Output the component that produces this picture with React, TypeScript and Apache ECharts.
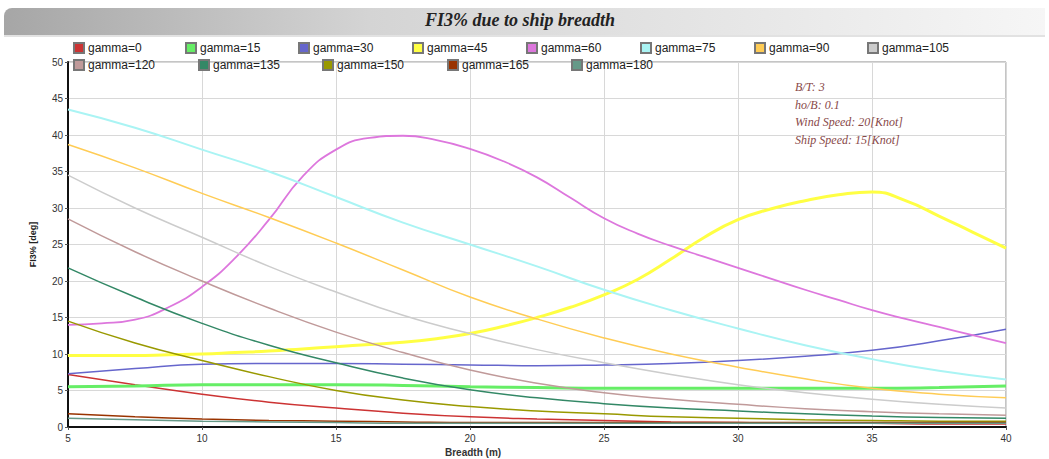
import React, { useEffect, useRef } from "react";
import * as echarts from "echarts";

const breadth = [5, 7.5, 10, 12.5, 15, 17.5, 20, 22.5, 25, 27.5, 30, 32.5, 35, 37.5, 40];
const breadthFine = [
  5, 6.25, 7.5, 8.75, 10, 11.25, 12.5, 13.75, 15, 16.25, 17.5, 18.75, 20, 21.25, 22.5,
  23.75, 25, 26.25, 27.5, 28.75, 30, 31.25, 32.5, 33.75, 35, 36.25, 37.5, 38.75, 40,
];

const g0 = [7.2, 5.8, 4.5, 3.4, 2.6, 1.9, 1.4, 1.1, 0.9, 0.7, 0.6, 0.5, 0.5, 0.4, 0.4];
const g15 = [5.5, 5.6, 5.8, 5.8, 5.8, 5.7, 5.5, 5.4, 5.3, 5.3, 5.3, 5.3, 5.3, 5.4, 5.6];
const g30 = [7.3, 8.0, 8.6, 8.7, 8.7, 8.6, 8.5, 8.4, 8.5, 8.7, 9.1, 9.7, 10.5, 11.8, 13.4];
const g45 = [
  9.8, 9.8, 9.8, 9.9, 10.0, 10.2, 10.4, 10.7, 11.0, 11.3, 11.6, 12.1, 12.8, 13.8, 15.0,
  16.4, 18.1, 20.2, 23.0, 26.0, 28.4, 29.9, 31.0, 31.8, 32.2, 31.0, 28.9, 26.7, 24.5,
];
const g60 = [
  14.0, 14.2, 14.7, 16.4, 19.2, 23.2, 28.4, 34.3, 38.0, 39.6, 39.9, 39.3, 38.1, 36.4, 34.2,
  31.4, 28.6, 26.5, 24.8, 23.3, 21.8, 20.3, 18.8, 17.4, 16.0, 14.8, 13.7, 12.6, 11.5,
];
const g75 = [43.5, 41.0, 38.0, 35.0, 31.5, 28.0, 25.0, 22.0, 18.8, 16.0, 13.5, 11.2, 9.3, 7.7, 6.5];
const g90 = [38.7, 35.5, 32.0, 28.7, 25.2, 21.5, 17.8, 14.8, 12.2, 10.0, 8.2, 6.6, 5.3, 4.5, 4.0];
const g105 = [34.5, 30.0, 26.0, 22.0, 18.5, 15.3, 12.8, 10.6, 8.8, 7.2, 5.8, 4.7, 3.8, 3.1, 2.6];
const g120 = [28.5, 24.0, 20.0, 16.3, 13.0, 10.2, 7.8, 6.0, 4.7, 3.8, 3.1, 2.5, 2.1, 1.8, 1.6];
const g135 = [21.8, 17.8, 14.2, 11.2, 8.8, 6.7, 5.1, 4.0, 3.2, 2.6, 2.2, 1.8, 1.5, 1.3, 1.2];
const g150 = [14.5, 11.5, 9.1, 6.9, 5.0, 3.7, 2.8, 2.2, 1.8, 1.4, 1.2, 1.0, 0.9, 0.8, 0.8];
const g165 = [1.8, 1.4, 1.1, 0.9, 0.8, 0.7, 0.6, 0.6, 0.6, 0.6, 0.6, 0.6, 0.6, 0.6, 0.6];
const g180 = [1.2, 1.0, 0.8, 0.7, 0.6, 0.5, 0.5, 0.5, 0.5, 0.5, 0.5, 0.5, 0.5, 0.5, 0.5];

const seriesNames = [
  "gamma=0", "gamma=15", "gamma=30", "gamma=45", "gamma=60", "gamma=75", "gamma=90",
  "gamma=105", "gamma=120", "gamma=135", "gamma=150", "gamma=165", "gamma=180",
];
const seriesValues = [g0, g15, g30, g45, g60, g75, g90, g105, g120, g135, g150, g165, g180];
const seriesColors = [
  "#cc3333", "#66ee66", "#6666cc", "#ffff44", "#dd77dd", "#aaf4f4", "#ffcc55",
  "#cccccc", "#c09a9a", "#338866", "#999900", "#993300", "#669988",
];
const seriesWidths = [1.5, 3, 1.5, 3, 1.8, 2, 1.5, 1.5, 1.5, 1.5, 1.5, 1.5, 1.5];

const xTicks = { min: 5, max: 40, interval: 5 };
const yTicks = { min: 0, max: 50, interval: 5 };

const noteLines = ["B/T: 3", "ho/B: 0.1", "Wind Speed: 20[Knot]", "Ship Speed: 15[Knot]"];

// legend layout slots (row 1: 8 items, row 2: 5 items)
const legendRow1Left = [73, 185, 298, 412, 526, 640, 754, 867];
const legendRow2Left = [73, 198, 322, 447, 571];

export default function App() {
  const ref = useRef<HTMLDivElement>(null);
  useEffect(() => {
    if (!ref.current) return;
    const chart = echarts.init(ref.current, undefined, { renderer: "svg" });
    const series = seriesNames.map((name, i) => {
      const vals = seriesValues[i];
      const xs = vals.length === breadthFine.length ? breadthFine : breadth;
      return {
        name,
        type: "line",
        smooth: true,
        showSymbol: false,
        symbol: "none",
        data: xs.map((b, j) => [b, vals[j]]),
        lineStyle: { color: seriesColors[i], width: seriesWidths[i] },
        itemStyle: { color: seriesColors[i], borderColor: "#777", borderWidth: 0.6 },
      };
    });
    const legends = seriesNames.map((name, i) => {
      const row = i < 8 ? 0 : 1;
      const left = row === 0 ? legendRow1Left[i] : legendRow2Left[i - 8];
      return {
        left,
        top: row === 0 ? 42 : 59,
        padding: 0,
        itemWidth: 10,
        itemHeight: 10,
        itemGap: 0,
        icon: "rect",
        textStyle: { fontFamily: "Liberation Sans", fontSize: 12, color: "#222", padding: [0, 0, 0, -1] },
        data: [name],
      };
    });
    chart.setOption({
      animation: false,
      backgroundColor: "#ffffff",
      grid: {
        left: 68,
        right: 43,
        top: 62,
        bottom: 32,
        show: true,
        borderColor: "#8a8a8a",
        borderWidth: 1,
      },
      legend: legends,
      xAxis: {
        type: "value",
        min: xTicks.min,
        max: xTicks.max,
        interval: xTicks.interval,
        axisLine: { show: true, lineStyle: { color: "#111", width: 2 } },
        axisTick: { show: true, length: 3, lineStyle: { color: "#555" } },
        axisLabel: { fontFamily: "Liberation Sans", fontSize: 10, color: "#333", margin: 6 },
        splitLine: { show: true, lineStyle: { color: "#d8d8d8", width: 1 } },
      },
      yAxis: {
        type: "value",
        min: yTicks.min,
        max: yTicks.max,
        interval: yTicks.interval,
        name: "FI3% [deg]",
        nameLocation: "middle",
        nameGap: 31,
        nameTextStyle: { fontFamily: "Liberation Sans", fontSize: 9, color: "#222", fontWeight: "bold" },
        axisLine: { show: true, lineStyle: { color: "#111", width: 2 } },
        axisTick: { show: true, length: 3, lineStyle: { color: "#555" } },
        axisLabel: { fontFamily: "Liberation Sans", fontSize: 10, color: "#333", margin: 5 },
        splitLine: { show: true, lineStyle: { color: "#d8d8d8", width: 1 } },
      },
      graphic: [
        {
          type: "rect",
          left: 4,
          top: 8,
          shape: { width: 1041, height: 28, r: [8, 0, 0, 0] },
          style: {
            fill: new echarts.graphic.LinearGradient(0, 0, 1, 0, [
              { offset: 0, color: "#a6a6a6" },
              { offset: 0.35, color: "#d4d4d4" },
              { offset: 1, color: "#f6f6f6" },
            ]),
          },
          z: -1,
        },
        {
          type: "rect",
          left: 4,
          top: 35,
          shape: { width: 1041, height: 2 },
          style: { fill: "#e2e2e2" },
          z: -1,
        },
        {
          type: "text",
          x: 520,
          y: 11,
          style: {
            text: "FI3% due to ship breadth",
            font: "italic bold 18px 'Liberation Serif'",
            fill: "#222",
            align: "center",
          },
        },
        {
          type: "text",
          x: 445,
          y: 447,
          style: {
            text: "Breadth (m)",
            font: "bold 10px 'Liberation Sans'",
            fill: "#333",
          },
        },
        ...noteLines.map((t, i) => ({
          type: "text",
          x: 795,
          y: 81 + i * 17.5,
          style: {
            text: t,
            font: "italic 12px 'Liberation Serif'",
            fill: "#884848",
          },
          z: 10,
        })),
      ],
      series,
    });
    return () => chart.dispose();
  }, []);
  return <div ref={ref} style={{ width: 1049, height: 459, position: "absolute", left: 0, top: 0 }} />;
}
